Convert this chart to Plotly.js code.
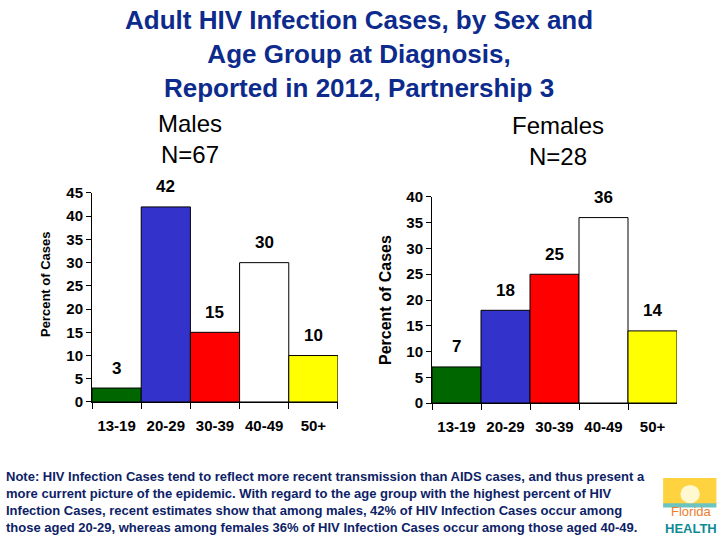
<!DOCTYPE html>
<html>
<head>
<meta charset="utf-8">
<script src="https://cdn.plot.ly/plotly-3.0.1.min.js"></script>
<style>
html,body{margin:0;padding:0;background:#fff;}
#chart{width:720px;height:540px;}
</style>
</head>
<body>
<div id="chart"></div>
<script>
// ---- data ----
const ageGroups = ["13-19", "20-29", "30-39", "40-49", "50+"];
const malePct = [3, 42, 15, 30, 10];
const femalePct = [7, 18, 25, 36, 14];
const barColors = ["#006600", "#3333CC", "#FF0000", "#FFFFFF", "#FFFF00"];
const maleTitle = "Males<br>N=67";
const femaleTitle = "Females<br>N=28";
const chartTitle = "Adult HIV Infection Cases, by Sex and<br>Age Group at Diagnosis,<br>Reported in 2012, Partnership 3";
const yTitle = "Percent of Cases";
const noteText = "Note: HIV Infection Cases tend to reflect more recent transmission than AIDS cases, and thus present a<br>" +
  "more current picture of the epidemic. With regard to the age group with the highest percent of HIV<br>" +
  "Infection Cases, recent estimates show that among males, 42% of HIV Infection Cases occur among<br>" +
  "those aged 20-29, whereas among females 36% of HIV Infection Cases occur among those aged 40-49.";
const logoText = "<span style='color:#EE7D2B'>Florida</span><br><b style='color:#108A95'>HEALTH</b>";

const F = "'Liberation Sans', Arial, sans-serif";
const tickFont = {family: F, size: 15, color: "#000", weight: "bold"};

const traces = [
  {type: "bar", x: ageGroups, y: malePct, xaxis: "x", yaxis: "y",
   marker: {color: barColors, line: {color: "#000", width: 1}}, hoverinfo: "none"},
  {type: "bar", x: ageGroups, y: femalePct, xaxis: "x2", yaxis: "y2",
   marker: {color: barColors, line: {color: "#000", width: 1}}, hoverinfo: "none"}
];

const annotations = [];
ageGroups.forEach((g, i) => {
  annotations.push({xref: "x", yref: "y", x: g, y: malePct[i], text: String(malePct[i]),
    showarrow: false, yshift: 20, font: {family: F, size: 17, color: "#000", weight: "bold"}});
  annotations.push({xref: "x2", yref: "y2", x: g, y: femalePct[i], text: String(femalePct[i]),
    showarrow: false, yshift: 20, font: {family: F, size: 17, color: "#000", weight: "bold"}});
});
annotations.push(
  {xref: "paper", yref: "paper", x: 0.4986, y: 0.9, yanchor: "middle", xanchor: "center",
   text: chartTitle, showarrow: false, align: "center",
   font: {family: F, size: 26, color: "#0D2B8C", weight: "bold"}},
  {xref: "paper", yref: "paper", x: 0.2632, y: 0.7426, yanchor: "middle", xanchor: "center",
   text: maleTitle, showarrow: false, align: "center",
   font: {family: F, size: 24, color: "#000"}},
  {xref: "paper", yref: "paper", x: 0.775, y: 0.7389, yanchor: "middle", xanchor: "center",
   text: femaleTitle, showarrow: false, align: "center",
   font: {family: F, size: 24, color: "#000"}},
  {xref: "paper", yref: "paper", x: 0.0625, y: 0.474, yanchor: "middle", xanchor: "center",
   text: yTitle, textangle: -90, showarrow: false,
   font: {family: F, size: 13, color: "#000", weight: "bold"}},
  {xref: "paper", yref: "paper", x: 0.5347, y: 0.4444, yanchor: "middle", xanchor: "center",
   text: yTitle, textangle: -90, showarrow: false,
   font: {family: F, size: 16, color: "#000", weight: "bold"}},
  {xref: "paper", yref: "paper", x: 0.006, y: 0.1352, yanchor: "top", xanchor: "left",
   text: noteText, showarrow: false, align: "left",
   font: {family: F, size: 13, color: "#0D2266", weight: "bold"}},
  {xref: "paper", yref: "paper", x: 0.9597, y: 0.037, yanchor: "middle", xanchor: "center",
   text: logoText, showarrow: false, align: "center",
   font: {family: F, size: 13}}
);

const yAxisCommon = {
  showgrid: false, zeroline: false, showline: true, linecolor: "#000", linewidth: 1,
  ticks: "outside", ticklen: 5, tickcolor: "#000", tickfont: tickFont, dtick: 5,
  fixedrange: true
};
const xAxisCommon = {
  showgrid: false, zeroline: false, showline: true, linecolor: "#000", linewidth: 1,
  ticks: "outside", ticklen: 6, tickcolor: "#000", tickson: "boundaries",
  tickfont: tickFont, ticklabelstandoff: 10, fixedrange: true
};

const layout = {
  width: 720, height: 540,
  margin: {l: 0, r: 0, t: 0, b: 0},
  paper_bgcolor: "#fff", plot_bgcolor: "#fff",
  showlegend: false, bargap: 0,
  xaxis: Object.assign({}, xAxisCommon, {domain: [0.1278, 0.4694], anchor: "y"}),
  yaxis: Object.assign({}, yAxisCommon, {domain: [0.2556, 0.6426], range: [0, 45], anchor: "x"}),
  xaxis2: Object.assign({}, xAxisCommon, {domain: [0.6, 0.9403], anchor: "y2"}),
  yaxis2: Object.assign({}, yAxisCommon, {domain: [0.2537, 0.6352], range: [0, 40], anchor: "x2"}),
  annotations: annotations,
  shapes: [
    {type: "rect", xref: "paper", yref: "paper", x0: 0.921, x1: 0.995, y0: 0.066, y1: 0.115,
     fillcolor: "#FFD23F", line: {width: 0}},
    {type: "rect", xref: "paper", yref: "paper", x0: 0.921, x1: 0.995, y0: 0.06, y1: 0.068,
     fillcolor: "#6CC4C0", line: {width: 0}},
    {type: "circle", xref: "paper", yref: "paper", x0: 0.945, x1: 0.972, y0: 0.068, y1: 0.102,
     fillcolor: "#FFF8D0", line: {width: 0}}
  ]
};

Plotly.newPlot("chart", traces, layout, {staticPlot: true, displayModeBar: false});
</script>
</body>
</html>
